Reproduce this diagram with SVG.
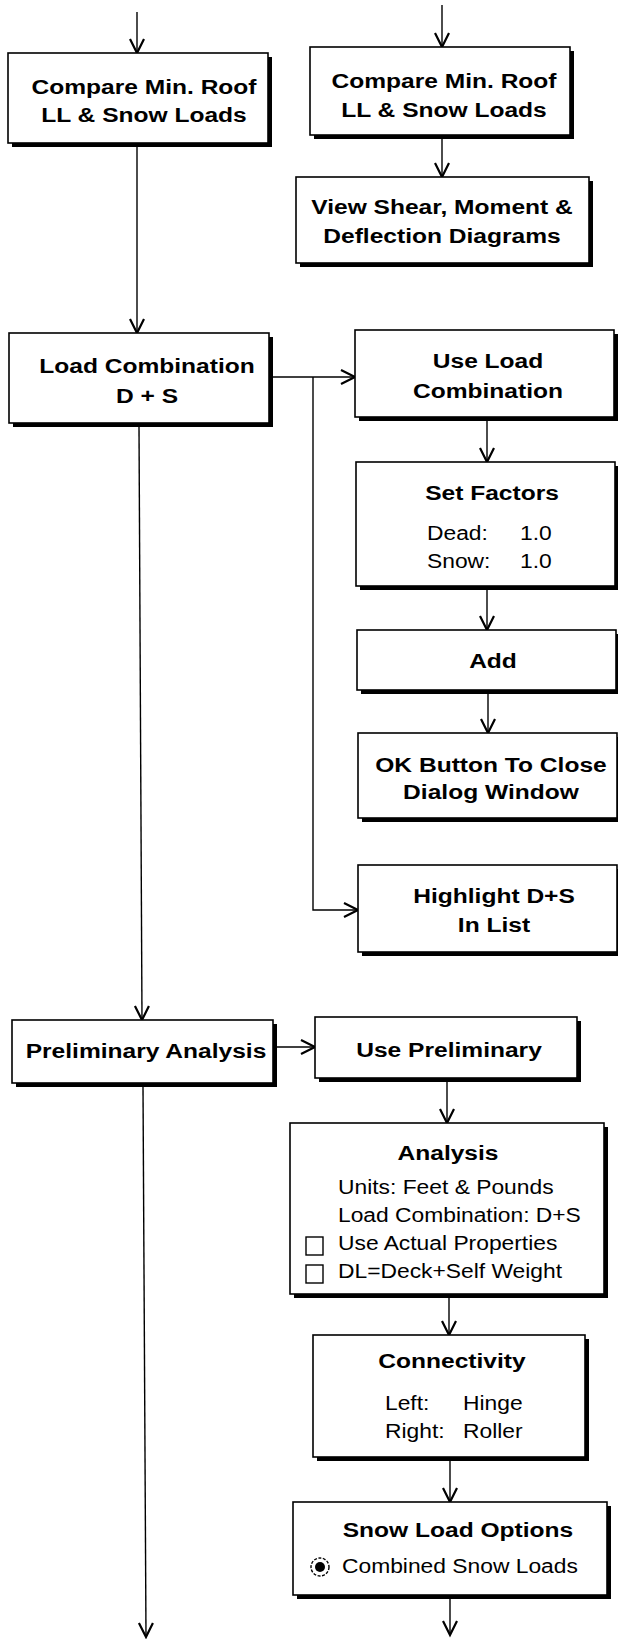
<svg xmlns="http://www.w3.org/2000/svg" width="618" height="1639" viewBox="0 0 618 1639">
  <defs>
    <style>
      .box { fill: #fff; stroke: #000; stroke-width: 1.6; }
      .shadow { fill: #000; }
      .t { font-family: "Liberation Sans", Arial, Helvetica, sans-serif; font-weight: bold; font-size: 21px; text-anchor: middle; fill: #000; }
      .r { font-family: "Liberation Sans", Arial, Helvetica, sans-serif; font-weight: normal; font-size: 19.5px; text-anchor: start; fill: #000; }
      .wire { fill: none; stroke: #000; stroke-width: 1.4; }
      .tick { fill: #fff; stroke: #000; stroke-width: 1.4; }
    </style>
    <marker id="arrow" markerUnits="userSpaceOnUse" markerWidth="20" markerHeight="20" viewBox="-16 -10 20 20" refX="0" refY="0" orient="auto" overflow="visible">
      <path d="M-14,-7 L0,0 L-14,7" fill="none" stroke="#000" stroke-width="2.2" stroke-linejoin="miter"/>
    </marker>
  </defs>

  <rect width="618" height="1639" fill="#fff"/>

  <!-- connectors -->
  <g id="connectors" class="wire">
    <path d="M137,12 V53" marker-end="url(#arrow)"/>
    <path d="M442,5 V47" marker-end="url(#arrow)"/>
    <path d="M442,139 V177" marker-end="url(#arrow)"/>
    <path d="M137,147 V333" marker-end="url(#arrow)"/>
    <path d="M273,377 H355" marker-end="url(#arrow)"/>
    <path d="M313,377 V910 H358" marker-end="url(#arrow)"/>
    <path d="M487,421 V462" marker-end="url(#arrow)"/>
    <path d="M487,590 V630" marker-end="url(#arrow)"/>
    <path d="M488,694 V733" marker-end="url(#arrow)"/>
    <path d="M139,427 L142,1020" marker-end="url(#arrow)"/>
    <path d="M277,1047 H315" marker-end="url(#arrow)"/>
    <path d="M447,1082 V1123" marker-end="url(#arrow)"/>
    <path d="M449,1298 V1335" marker-end="url(#arrow)"/>
    <path d="M450,1461 V1502" marker-end="url(#arrow)"/>
    <path d="M143,1087 L146,1637" marker-end="url(#arrow)"/>
    <path d="M450,1599 V1635" marker-end="url(#arrow)"/>
  </g>

  <!-- left column -->
  <g id="compare-left">
    <rect class="shadow" x="12" y="57" width="260" height="90"/>
    <rect class="box" x="8" y="53" width="260" height="90"/>
    <text class="t" transform="translate(144,94) scale(1.17,1)">Compare Min. Roof</text>
    <text class="t" transform="translate(144,122) scale(1.17,1)">LL &amp; Snow Loads</text>
  </g>

  <g id="load-combination">
    <rect class="shadow" x="13" y="337" width="260" height="90"/>
    <rect class="box" x="9" y="333" width="260" height="90"/>
    <text class="t" transform="translate(147,373) scale(1.17,1)">Load Combination</text>
    <text class="t" transform="translate(147,403) scale(1.17,1)">D + S</text>
  </g>

  <g id="preliminary-analysis">
    <rect class="shadow" x="16" y="1024" width="261" height="63"/>
    <rect class="box" x="12" y="1020" width="261" height="63"/>
    <text class="t" transform="translate(146,1058) scale(1.17,1)">Preliminary Analysis</text>
  </g>

  <!-- right column -->
  <g id="compare-right">
    <rect class="shadow" x="314" y="51" width="260" height="88"/>
    <rect class="box" x="310" y="47" width="260" height="88"/>
    <text class="t" transform="translate(444,88) scale(1.17,1)">Compare Min. Roof</text>
    <text class="t" transform="translate(444,117) scale(1.17,1)">LL &amp; Snow Loads</text>
  </g>

  <g id="view-diagrams">
    <rect class="shadow" x="300" y="181" width="293" height="86"/>
    <rect class="box" x="296" y="177" width="293" height="86"/>
    <text class="t" transform="translate(442,214) scale(1.17,1)">View Shear, Moment &amp;</text>
    <text class="t" transform="translate(442,243) scale(1.17,1)">Deflection Diagrams</text>
  </g>

  <g id="use-load-combination">
    <rect class="shadow" x="359" y="334" width="259" height="87"/>
    <rect class="box" x="355" y="330" width="259" height="87"/>
    <text class="t" transform="translate(488,368) scale(1.17,1)">Use Load</text>
    <text class="t" transform="translate(488,398) scale(1.17,1)">Combination</text>
  </g>

  <g id="set-factors">
    <rect class="shadow" x="360" y="466" width="259" height="124"/>
    <rect class="box" x="356" y="462" width="259" height="124"/>
    <text class="t" transform="translate(492,500) scale(1.17,1)">Set Factors</text>
    <text class="r" transform="translate(427,540) scale(1.17,1)">Dead:</text>
    <text class="r" transform="translate(520,540) scale(1.17,1)">1.0</text>
    <text class="r" transform="translate(427,568) scale(1.17,1)">Snow:</text>
    <text class="r" transform="translate(520,568) scale(1.17,1)">1.0</text>
  </g>

  <g id="add">
    <rect class="shadow" x="361" y="634" width="259" height="60"/>
    <rect class="box" x="357" y="630" width="259" height="60"/>
    <text class="t" transform="translate(493,668) scale(1.17,1)">Add</text>
  </g>

  <g id="ok-button">
    <rect class="shadow" x="362" y="737" width="259" height="85"/>
    <rect class="box" x="358" y="733" width="259" height="85"/>
    <text class="t" transform="translate(491,772) scale(1.17,1)">OK Button To Close</text>
    <text class="t" transform="translate(491,799) scale(1.17,1)">Dialog Window</text>
  </g>

  <g id="highlight">
    <rect class="shadow" x="362" y="869" width="259" height="87"/>
    <rect class="box" x="358" y="865" width="259" height="87"/>
    <text class="t" transform="translate(494,903) scale(1.17,1)">Highlight D+S</text>
    <text class="t" transform="translate(494,932) scale(1.17,1)">In List</text>
  </g>

  <g id="use-preliminary">
    <rect class="shadow" x="319" y="1021" width="262" height="61"/>
    <rect class="box" x="315" y="1017" width="262" height="61"/>
    <text class="t" transform="translate(449,1057) scale(1.17,1)">Use Preliminary</text>
  </g>

  <g id="analysis">
    <rect class="shadow" x="294" y="1127" width="314" height="171"/>
    <rect class="box" x="290" y="1123" width="314" height="171"/>
    <text class="t" transform="translate(448,1160) scale(1.17,1)">Analysis</text>
    <text class="r" transform="translate(338,1194) scale(1.17,1)">Units: Feet &amp; Pounds</text>
    <text class="r" transform="translate(338,1222) scale(1.17,1)">Load Combination: D+S</text>
    <rect class="tick" x="306" y="1237" width="17" height="18"/>
    <text class="r" transform="translate(338,1250) scale(1.17,1)">Use Actual Properties</text>
    <rect class="tick" x="306" y="1265" width="17" height="18"/>
    <text class="r" transform="translate(338,1278) scale(1.17,1)">DL=Deck+Self Weight</text>
  </g>

  <g id="connectivity">
    <rect class="shadow" x="317" y="1339" width="272" height="122"/>
    <rect class="box" x="313" y="1335" width="272" height="122"/>
    <text class="t" transform="translate(452,1368) scale(1.17,1)">Connectivity</text>
    <text class="r" transform="translate(385,1410) scale(1.17,1)">Left:</text>
    <text class="r" transform="translate(463,1410) scale(1.17,1)">Hinge</text>
    <text class="r" transform="translate(385,1438) scale(1.17,1)">Right:</text>
    <text class="r" transform="translate(463,1438) scale(1.17,1)">Roller</text>
  </g>

  <g id="snow-load-options">
    <rect class="shadow" x="297" y="1506" width="314" height="93"/>
    <rect class="box" x="293" y="1502" width="314" height="93"/>
    <text class="t" transform="translate(458,1537) scale(1.17,1)">Snow Load Options</text>
    <circle cx="320" cy="1567" r="9" fill="#fff" stroke="#000" stroke-width="1.4" stroke-dasharray="3 1.5"/>
    <circle cx="320" cy="1567" r="5" fill="#000"/>
    <text class="r" transform="translate(342,1573) scale(1.17,1)">Combined Snow Loads</text>
  </g>
</svg>
